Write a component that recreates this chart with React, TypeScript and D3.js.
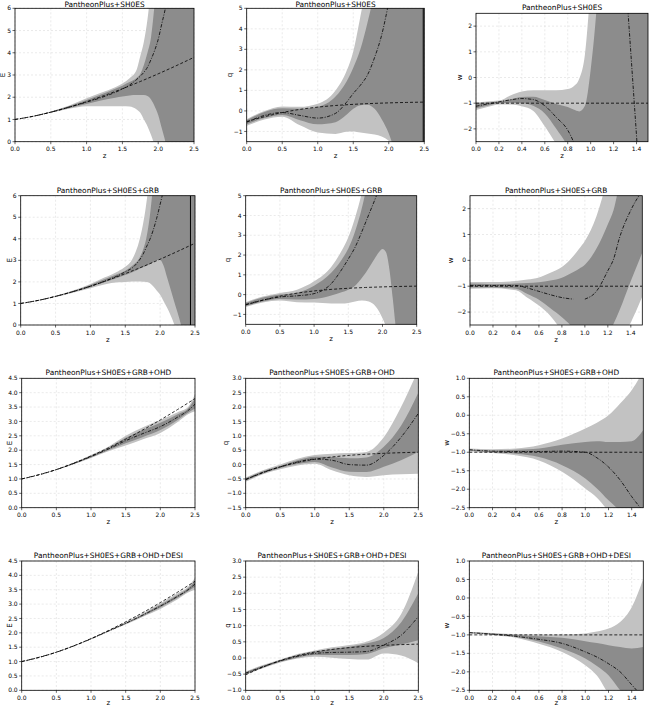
import React from 'react';
import * as d3 from 'd3';

// ---------- reference (LCDM) curves ----------
const lcdmZ = [0, 0.25, 0.5, 0.75, 1, 1.25, 1.5, 1.75, 2, 2.25, 2.5];
const lcdmE = [1, 1.142, 1.327, 1.548, 1.8, 2.08, 2.383, 2.708, 3.053, 3.416, 3.795];
const lcdmQ = [-0.52, -0.282, -0.08, 0.074, 0.185, 0.264, 0.32, 0.361, 0.391, 0.413, 0.429];
const lcdmWZ = [0, 1.5];
const lcdmW = [-1, -1];

// ---------- tick values ----------
const ticksZ25 = [0, 0.5, 1, 1.5, 2, 2.5];
const ticksZ15 = [0, 0.2, 0.4, 0.6, 0.8, 1, 1.2, 1.4];
const ticksE6 = [0, 1, 2, 3, 4, 5, 6];
const ticksQ5 = [-1, 0, 1, 2, 3, 4, 5];
const ticksW25 = [-2, -1, 0, 1, 2];
const ticksE45 = [0, 0.5, 1, 1.5, 2, 2.5, 3, 3.5, 4, 4.5];
const ticksQ3 = [-1.5, -1, -0.5, 0, 0.5, 1, 1.5, 2, 2.5, 3];
const ticksW1 = [-2.5, -2, -1.5, -1, -0.5, 0, 0.5, 1];
const ticksQ3b = [-1, -0.5, 0, 0.5, 1, 1.5, 2, 2.5, 3];

// ---------- Panel 1: E, PantheonPlus+SH0ES ----------
const p1Z = [0, 0.25, 0.5, 0.75, 1.0, 1.2, 1.4, 1.5, 1.6, 1.7, 1.75, 1.8, 1.85, 1.9, 1.95, 2.0, 2.05, 2.1, 2.2, 2.5];
const p1Hi2 = [1.0, 1.16, 1.36, 1.62, 1.95, 2.2, 2.45, 2.62, 2.85, 3.25, 3.85, 4.5, 5.5, 7, 9, 12, 15, 18, 20, 25];
const p1Hi1 = [1.0, 1.15, 1.345, 1.59, 1.88, 2.12, 2.38, 2.52, 2.68, 2.88, 3.05, 3.45, 4.0, 4.7, 6.2, 8, 11, 14, 18, 25];
const p1Mean = [1.0, 1.14, 1.327, 1.55, 1.78, 1.98, 2.22, 2.37, 2.55, 2.8, 2.95, 3.12, 3.35, 3.7, 4.1, 4.6, 5.3, 6.0, 8, 14];
const p1Lo1 = [1.0, 1.135, 1.31, 1.51, 1.7, 1.85, 1.98, 2.03, 2.08, 2.1, 2.1, 2.1, 2.05, 1.9, 1.6, 1.2, 0.6, 0.0, -1.5, -5];
const p1Lo2 = [1.0, 1.13, 1.3, 1.48, 1.6, 1.6, 1.6, 1.6, 1.58, 1.45, 1.3, 1.0, 0.7, 0.3, -0.2, -1, -2, -3, -4, -5];

// ---------- Panel 2: q, PantheonPlus+SH0ES ----------
const p2Z = [0, 0.25, 0.5, 0.75, 1.0, 1.25, 1.4, 1.5, 1.6, 1.7, 1.8, 1.9, 2.0, 2.05, 2.1, 2.2, 2.5];
const p2Hi2 = [-0.4, 0.0, 0.22, 0.2, 0.35, 1.0, 1.9, 2.9, 4.6, 6.5, 9, 12, 15, 16, 17, 20, 25];
const p2Hi1 = [-0.45, -0.05, 0.13, 0.1, 0.2, 0.7, 1.4, 2.1, 3.0, 4.3, 5.8, 7.5, 10, 12, 14, 18, 25];
const p2Mean = [-0.55, -0.22, -0.08, -0.22, -0.35, -0.12, 0.4, 0.85, 1.25, 1.75, 2.6, 3.7, 5.3, 6.2, 7.5, 10, 20];
const p2Lo1 = [-0.65, -0.35, -0.2, -0.45, -0.65, -0.55, -0.2, 0.1, 0.28, 0.3, 0.1, -0.4, -1.1, -1.6, -2.2, -3, -6];
const p2Lo2 = [-0.72, -0.42, -0.28, -0.7, -1.05, -1.12, -1.02, -1.0, -1.05, -1.1, -1.15, -1.25, -1.45, -1.6, -2.0, -3, -8];

// ---------- Panel 3: w, PantheonPlus+SH0ES ----------
const p3Z = [0, 0.1, 0.2, 0.3, 0.4, 0.5, 0.6, 0.7, 0.8, 0.85, 0.9, 0.95, 1.0, 1.05, 1.1, 1.5];
const p3Hi2 = [-0.97, -0.93, -0.9, -0.7, -0.55, -0.5, -0.5, -0.5, -0.45, -0.35, -0.05, 0.9, 3.5, 6, 8, 12];
const p3Hi1 = [-1.0, -0.97, -0.93, -0.85, -0.76, -0.75, -0.88, -1.03, -1.15, -1.25, -1.32, -1.1, 0.3, 2.6, 6, 12];
const p3Mean = [-1.12, -1.03, -0.95, -0.87, -0.82, -0.86, -1.1, -1.55, -2.05, -2.5, -3.1, NaN, NaN, NaN, NaN, NaN];
const p3Lo1 = [-1.2, -1.1, -1.0, -0.98, -1.0, -1.1, -1.4, -2.0, -2.7, -3.2, -4, -5, -6, -7, -8, -12];
const p3Lo2 = [-1.27, -1.15, -1.05, -1.05, -1.12, -1.3, -1.9, -2.6, -3.3, -4, -5, -6, -7, -8, -9, -12];
const p3MeanBZ = [1.325, 1.405];
const p3MeanB = [2.6, -2.6];

// ---------- Panel 4: E, PantheonPlus+SH0ES+GRB ----------
const p4Z = [0, 0.25, 0.5, 0.75, 1.0, 1.2, 1.4, 1.5, 1.6, 1.7, 1.75, 1.8, 1.85, 1.9, 1.95, 2.0, 2.05, 2.1, 2.2, 2.3, 2.4, 2.5];
const p4Hi2 = [1.0, 1.155, 1.35, 1.6, 1.9, 2.2, 2.5, 2.7, 3.05, 3.9, 4.6, 5.6, 7, 9, 11, 13, 15, 17, 20, 22, 24, 25];
const p4Hi1 = [1.0, 1.15, 1.34, 1.58, 1.86, 2.12, 2.38, 2.52, 2.75, 3.1, 3.45, 4.0, 5.0, 6.5, 8, 10, 12, 14, 17, 20, 22, 25];
const p4Mean = [1.0, 1.14, 1.33, 1.55, 1.8, 2.03, 2.3, 2.47, 2.65, 3.0, 3.25, 3.6, 3.95, 4.4, 4.95, 5.6, 6.3, 7.2, 9, 12, 15, 20];
const p4Lo1 = [1.0, 1.135, 1.32, 1.53, 1.75, 1.98, 2.2, 2.32, 2.45, 2.6, 2.68, 2.74, 2.82, 2.9, 3.0, 3.02, 2.75, 2.2, 1.1, 0.0, -1.5, -3];
const p4Lo2 = [1.0, 1.13, 1.3, 1.5, 1.7, 1.88, 1.98, 2.0, 2.02, 2.02, 2.01, 2.0, 1.95, 1.8, 1.6, 1.4, 1.1, 0.8, 0.05, -1, -2, -3];

// ---------- Panel 5: q, PantheonPlus+SH0ES+GRB ----------
const p5Z = [0, 0.25, 0.5, 0.75, 1.0, 1.25, 1.4, 1.5, 1.6, 1.7, 1.8, 1.9, 1.95, 2.0, 2.05, 2.1, 2.15, 2.2, 2.3, 2.5];
const p5Hi2 = [-0.38, -0.1, 0.08, 0.25, 0.67, 1.4, 2.2, 2.9, 3.9, 5.2, 7, 9, 10, 11, 12, 13, 14, 15, 17, 20];
const p5Hi1 = [-0.42, -0.15, 0.0, 0.1, 0.45, 1.1, 1.75, 2.33, 3.2, 4.4, 6, 8, 9, 10, 11, 12, 13, 14, 16, 20];
const p5Mean = [-0.5, -0.28, -0.12, -0.06, 0.05, 0.55, 1.25, 1.8, 2.4, 3.2, 4.05, 4.9, 5.35, 5.8, 6.3, 7, 7.5, 8, 9, 12];
const p5Lo1 = [-0.58, -0.35, -0.22, -0.25, -0.22, -0.05, 0.12, 0.25, 0.45, 0.85, 1.35, 1.9, 2.15, 2.3, 2.15, 1.3, -0.2, -1.8, -3, -5];
const p5Lo2 = [-0.62, -0.4, -0.3, -0.38, -0.4, -0.45, -0.45, -0.42, -0.35, -0.3, -0.35, -0.6, -0.85, -1.2, -1.6, -2, -2.5, -3, -4, -6];

// ---------- Panel 6: w, PantheonPlus+SH0ES+GRB ----------
const p6Z = [0, 0.2, 0.4, 0.5, 0.6, 0.7, 0.8, 0.9, 0.95, 1.0, 1.1, 1.2, 1.25, 1.3, 1.4, 1.5];
const p6Hi2 = [-0.84, -0.84, -0.8, -0.74, -0.66, -0.48, -0.26, 0.17, 0.45, 0.75, 1.7, 3.2, 4, 5, 6, 7];
const p6Hi1 = [-0.9, -0.92, -0.9, -0.88, -0.85, -0.78, -0.67, -0.45, -0.32, -0.17, 0.45, 1.4, 1.95, 2.9, 4, 5];
const p6Mean = [-0.97, -0.97, -0.97, -1.07, -1.2, -1.33, -1.44, -1.5, NaN, -1.5, -1.2, -0.4, 0.05, 0.85, 1.94, 2.7];
const p6Lo1 = [-1.05, -1.05, -1.1, -1.3, -1.52, -1.85, -2.2, -2.65, -3, -3.3, -3.4, -2.9, -2.45, -1.95, -0.8, 0.3];
const p6Lo2 = [-1.1, -1.08, -1.16, -1.45, -1.75, -2.15, -2.75, -3.5, -4, -4.3, -4.5, -4, -3.6, -3.2, -2.4, -1.4];

// ---------- Panel 7: E, +OHD ----------
const p7Z = [0, 0.5, 1.0, 1.25, 1.5, 1.75, 2.0, 2.25, 2.4, 2.5];
const p7Hi2 = [1.0, 1.335, 1.83, 2.12, 2.5, 2.8, 3.05, 3.32, 3.5, 3.95];
const p7Hi1 = [1.0, 1.33, 1.81, 2.08, 2.43, 2.7, 2.95, 3.25, 3.45, 3.8];
const p7Mean = [1.0, 1.325, 1.78, 2.04, 2.33, 2.58, 2.82, 3.15, 3.38, 3.6];
const p7Lo1 = [1.0, 1.32, 1.75, 2.0, 2.24, 2.46, 2.7, 3.05, 3.3, 3.45];
const p7Lo2 = [1.0, 1.315, 1.73, 1.96, 2.16, 2.38, 2.6, 2.98, 3.25, 3.35];

// ---------- Panel 8: q, +OHD ----------
const p8Z = [0, 0.25, 0.5, 0.75, 1.0, 1.25, 1.5, 1.75, 2.0, 2.25, 2.5];
const p8Hi2 = [-0.45, -0.2, 0.0, 0.2, 0.33, 0.38, 0.4, 0.44, 0.95, 2.0, 3.3];
const p8Hi1 = [-0.48, -0.23, -0.05, 0.15, 0.27, 0.26, 0.22, 0.25, 0.62, 1.35, 2.5];
const p8Mean = [-0.52, -0.27, -0.08, 0.09, 0.19, 0.15, 0.0, -0.02, 0.32, 0.95, 1.78];
const p8Lo1 = [-0.56, -0.31, -0.12, 0.02, 0.09, -0.1, -0.25, -0.26, -0.08, 0.15, 0.44];
const p8Lo2 = [-0.6, -0.34, -0.16, -0.03, 0.03, -0.2, -0.37, -0.43, -0.37, -0.34, -0.32];

// ---------- Panel 9: w, +OHD ----------
const p9Z = [0, 0.2, 0.4, 0.6, 0.8, 1.0, 1.1, 1.2, 1.3, 1.4, 1.5];
const p9Hi2 = [-0.9, -0.92, -0.9, -0.81, -0.63, -0.36, -0.2, 0.0, 0.32, 0.68, 1.2];
const p9Hi1 = [-0.93, -0.95, -0.93, -0.9, -0.8, -0.72, -0.7, -0.72, -0.72, -0.7, -0.4];
const p9Mean = [-0.93, -0.97, -0.98, -0.98, -0.97, -1.0, -1.15, -1.4, -1.75, -2.2, -2.6];
const p9Lo1 = [-0.96, -1.0, -1.04, -1.13, -1.35, -1.71, -1.98, -2.3, -2.6, -3, -3.5];
const p9Lo2 = [-0.97, -1.02, -1.08, -1.22, -1.53, -1.98, -2.23, -2.6, -3, -3.5, -4];

// ---------- Panel 10: E, +DESI ----------
const p10Z = [0, 0.5, 1.0, 1.25, 1.5, 1.75, 2.0, 2.25, 2.4, 2.5];
const p10Hi2 = [1.0, 1.33, 1.8, 2.08, 2.37, 2.68, 3.03, 3.38, 3.6, 3.92];
const p10Hi1 = [1.0, 1.33, 1.8, 2.07, 2.35, 2.65, 2.98, 3.32, 3.55, 3.82];
const p10Mean = [1.0, 1.325, 1.79, 2.06, 2.33, 2.62, 2.93, 3.27, 3.5, 3.7];
const p10Lo1 = [1.0, 1.32, 1.785, 2.05, 2.31, 2.59, 2.88, 3.22, 3.45, 3.6];
const p10Lo2 = [1.0, 1.32, 1.78, 2.04, 2.29, 2.56, 2.83, 3.17, 3.4, 3.5];

// ---------- Panel 11: q, +DESI ----------
const p11Z = [0, 0.25, 0.5, 0.75, 1.0, 1.25, 1.5, 1.75, 2.0, 2.25, 2.5];
const p11Hi2 = [-0.42, -0.22, -0.05, 0.12, 0.23, 0.33, 0.4, 0.5, 0.78, 1.35, 2.67];
const p11Hi1 = [-0.44, -0.24, -0.07, 0.09, 0.2, 0.28, 0.35, 0.45, 0.62, 1.1, 2.0];
const p11Mean = [-0.47, -0.27, -0.09, 0.05, 0.14, 0.17, 0.18, 0.2, 0.4, 0.7, 1.28];
const p11Lo1 = [-0.5, -0.3, -0.12, 0.01, 0.09, 0.09, 0.09, 0.12, 0.3, 0.42, 0.55];
const p11Lo2 = [-0.52, -0.32, -0.14, -0.02, 0.04, 0.01, -0.03, -0.05, 0.14, 0.08, -0.16];

// ---------- Panel 12: w, +DESI ----------
const p12Z = [0, 0.2, 0.4, 0.6, 0.8, 1.0, 1.1, 1.2, 1.3, 1.4, 1.5];
const p12Hi2 = [-0.92, -0.95, -0.98, -0.99, -0.99, -0.96, -0.91, -0.83, -0.65, -0.25, 0.52];
const p12Hi1 = [-0.93, -0.96, -1.0, -1.04, -1.08, -1.17, -1.22, -1.28, -1.33, -1.37, -1.33];
const p12Mean = [-0.94, -0.98, -1.04, -1.12, -1.23, -1.46, -1.6, -1.78, -2.0, -2.35, -2.7];
const p12Lo1 = [-0.95, -0.99, -1.06, -1.18, -1.37, -1.64, -1.84, -2.09, -2.5, -2.9, -3.4];
const p12Lo2 = [-0.96, -1.0, -1.08, -1.24, -1.46, -1.82, -2.1, -2.6, -3, -3.5, -4];

const titles = [
  'PantheonPlus+SH0ES',
  'PantheonPlus+SH0ES+GRB',
  'PantheonPlus+SH0ES+GRB+OHD',
  'PantheonPlus+SH0ES+GRB+OHD+DESI',
];

type Cfg = {
  title: string; ylabel: string; xDomain: [number, number]; yDomain: [number, number];
  xTicks: number[]; yTicks: number[]; yFmt: string;
  z: number[]; hi2: number[]; hi1: number[]; mean: number[]; lo1: number[]; lo2: number[];
  refZ: number[]; ref: number[]; pole?: number; meanBZ?: number[]; meanB?: number[];
};

const panels: Cfg[] = [
  { title: titles[0], ylabel: 'E', xDomain: [0, 2.5], yDomain: [0, 6], xTicks: ticksZ25, yTicks: ticksE6, yFmt: 'd',
    z: p1Z, hi2: p1Hi2, hi1: p1Hi1, mean: p1Mean, lo1: p1Lo1, lo2: p1Lo2, refZ: lcdmZ, ref: lcdmE },
  { title: titles[0], ylabel: 'q', xDomain: [0, 2.5], yDomain: [-1.5, 5], xTicks: ticksZ25, yTicks: ticksQ5, yFmt: 'd',
    z: p2Z, hi2: p2Hi2, hi1: p2Hi1, mean: p2Mean, lo1: p2Lo1, lo2: p2Lo2, refZ: lcdmZ, ref: lcdmQ, pole: 2.485 },
  { title: titles[0], ylabel: 'w', xDomain: [0, 1.5], yDomain: [-2.5, 2.5], xTicks: ticksZ15, yTicks: ticksW25, yFmt: 'd',
    z: p3Z, hi2: p3Hi2, hi1: p3Hi1, mean: p3Mean, lo1: p3Lo1, lo2: p3Lo2, refZ: lcdmWZ, ref: lcdmW, meanBZ: p3MeanBZ, meanB: p3MeanB },
  { title: titles[1], ylabel: 'E', xDomain: [0, 2.5], yDomain: [0, 6], xTicks: ticksZ25, yTicks: ticksE6, yFmt: 'd',
    z: p4Z, hi2: p4Hi2, hi1: p4Hi1, mean: p4Mean, lo1: p4Lo1, lo2: p4Lo2, refZ: lcdmZ, ref: lcdmE, pole: 2.435 },
  { title: titles[1], ylabel: 'q', xDomain: [0, 2.5], yDomain: [-1.5, 5], xTicks: ticksZ25, yTicks: ticksQ5, yFmt: 'd',
    z: p5Z, hi2: p5Hi2, hi1: p5Hi1, mean: p5Mean, lo1: p5Lo1, lo2: p5Lo2, refZ: lcdmZ, ref: lcdmQ },
  { title: titles[1], ylabel: 'w', xDomain: [0, 1.5], yDomain: [-2.5, 2.5], xTicks: ticksZ15, yTicks: ticksW25, yFmt: 'd',
    z: p6Z, hi2: p6Hi2, hi1: p6Hi1, mean: p6Mean, lo1: p6Lo1, lo2: p6Lo2, refZ: lcdmWZ, ref: lcdmW },
  { title: titles[2], ylabel: 'E', xDomain: [0, 2.5], yDomain: [0, 4.5], xTicks: ticksZ25, yTicks: ticksE45, yFmt: '.1f',
    z: p7Z, hi2: p7Hi2, hi1: p7Hi1, mean: p7Mean, lo1: p7Lo1, lo2: p7Lo2, refZ: lcdmZ, ref: lcdmE },
  { title: titles[2], ylabel: 'q', xDomain: [0, 2.5], yDomain: [-1.5, 3], xTicks: ticksZ25, yTicks: ticksQ3, yFmt: '.1f',
    z: p8Z, hi2: p8Hi2, hi1: p8Hi1, mean: p8Mean, lo1: p8Lo1, lo2: p8Lo2, refZ: lcdmZ, ref: lcdmQ },
  { title: titles[2], ylabel: 'w', xDomain: [0, 1.5], yDomain: [-2.5, 1], xTicks: ticksZ15, yTicks: ticksW1, yFmt: '.1f',
    z: p9Z, hi2: p9Hi2, hi1: p9Hi1, mean: p9Mean, lo1: p9Lo1, lo2: p9Lo2, refZ: lcdmWZ, ref: lcdmW },
  { title: titles[3], ylabel: 'E', xDomain: [0, 2.5], yDomain: [0, 4.5], xTicks: ticksZ25, yTicks: ticksE45, yFmt: '.1f',
    z: p10Z, hi2: p10Hi2, hi1: p10Hi1, mean: p10Mean, lo1: p10Lo1, lo2: p10Lo2, refZ: lcdmZ, ref: lcdmE },
  { title: titles[3], ylabel: 'q', xDomain: [0, 2.5], yDomain: [-1, 3], xTicks: ticksZ25, yTicks: ticksQ3b, yFmt: '.1f',
    z: p11Z, hi2: p11Hi2, hi1: p11Hi1, mean: p11Mean, lo1: p11Lo1, lo2: p11Lo2, refZ: lcdmZ, ref: lcdmQ },
  { title: titles[3], ylabel: 'w', xDomain: [0, 1.5], yDomain: [-2.5, 1], xTicks: ticksZ15, yTicks: ticksW1, yFmt: '.1f',
    z: p12Z, hi2: p12Hi2, hi1: p12Hi1, mean: p12Mean, lo1: p12Lo1, lo2: p12Lo2, refZ: lcdmWZ, ref: lcdmW },
];

// plot-area boxes: [left, right, top, bottom, y-label offset, title gap, x-label gap]
const boxes: [number, number, number, number, number, number, number][] = [
  [15, 194, 8.3, 141.7, 12.3, 1.8, 16.5],
  [246.7, 424.3, 8.3, 141.7, 16.7, 1.8, 16.5],
  [476, 648, 13.3, 141.7, 16.7, 3, 16.5],
  [20.7, 195, 195.7, 325, 10.7, 3, 16.5],
  [245.7, 416.7, 195.7, 324.3, 18, 3, 16.5],
  [470, 642.3, 195.7, 325, 19, 3, 16.5],
  [21.7, 195, 378.3, 507.7, 11.7, 3, 16.5],
  [245.7, 418.3, 378.3, 507.7, 20, 3, 16.5],
  [469.3, 643.3, 378.3, 507.7, 23, 3, 16.5],
  [21.7, 195, 561, 690.3, 11.7, 3, 15],
  [245.7, 418.3, 561, 690.3, 18, 3, 15],
  [469.3, 643.3, 561, 690.3, 23, 3, 15],
];

const LIGHT = '#c2c2c2';
const DARK = '#8c8c8c';
const FONT = 'DejaVu Sans, sans-serif';

function Panel({ cfg, box, idx }: { cfg: Cfg; box: [number, number, number, number, number, number, number]; idx: number }) {
  const [l, r, t, b, yl, tg, xg] = box;
  const x = d3.scaleLinear().domain(cfg.xDomain).range([l, r]);
  const y = d3.scaleLinear().domain(cfg.yDomain).range([b, t]);
  const rows = cfg.z.map((z, i) => ({ z, hi2: cfg.hi2[i], hi1: cfg.hi1[i], mean: cfg.mean[i], lo1: cfg.lo1[i], lo2: cfg.lo2[i] }));
  type R = (typeof rows)[number];
  const area2 = d3.area<R>().x(d => x(d.z)).y0(d => y(d.lo2)).y1(d => y(d.hi2)).curve(d3.curveMonotoneX);
  const area1 = d3.area<R>().x(d => x(d.z)).y0(d => y(d.lo1)).y1(d => y(d.hi1)).curve(d3.curveMonotoneX);
  const meanLine = d3.line<R>().defined(d => !isNaN(d.mean)).x(d => x(d.z)).y(d => y(d.mean)).curve(d3.curveMonotoneX);
  const refRows = cfg.refZ.map((z, i) => ({ z, v: cfg.ref[i] }));
  const refLine = d3.line<{ z: number; v: number }>().x(d => x(d.z)).y(d => y(d.v)).curve(d3.curveMonotoneX);
  const fmtY = d3.format(cfg.yFmt);
  const fmtX = d3.format('.1f');
  const clipId = `clip${idx}`;
  let meanB: string | null = null;
  if (cfg.meanBZ && cfg.meanB) {
    const mb = cfg.meanBZ.map((z, i) => ({ z, v: cfg.meanB![i] }));
    meanB = d3.line<{ z: number; v: number }>().x(d => x(d.z)).y(d => y(d.v))(mb);
  }
  return (
    <g>
      <defs>
        <clipPath id={clipId}>
          <rect x={l} y={t} width={r - l} height={b - t} />
        </clipPath>
      </defs>
      <g stroke="#dcdcdc" strokeWidth={0.6} strokeDasharray="2,2">
        {cfg.xTicks.map(v => <line key={'gx' + v} x1={x(v)} x2={x(v)} y1={t} y2={b} />)}
        {cfg.yTicks.map(v => <line key={'gy' + v} x1={l} x2={r} y1={y(v)} y2={y(v)} />)}
      </g>
      <g clipPath={`url(#${clipId})`}>
        <path d={area2(rows) || ''} fill={LIGHT} />
        <path d={area1(rows) || ''} fill={DARK} />
        <path d={refLine(refRows) || ''} fill="none" stroke="#000" strokeWidth={0.8} strokeDasharray="3,2" />
        <path d={meanLine(rows) || ''} fill="none" stroke="#000" strokeWidth={0.8} strokeDasharray="3.5,1.5,1,1.5" />
        {meanB && <path d={meanB} fill="none" stroke="#000" strokeWidth={0.8} strokeDasharray="3.5,1.5,1,1.5" />}
        {cfg.pole !== undefined && <line x1={x(cfg.pole)} x2={x(cfg.pole)} y1={t} y2={b} stroke="#000" strokeWidth={1} />}
      </g>
      <rect x={l} y={t} width={r - l} height={b - t} fill="none" stroke="#000" strokeWidth={0.8} />
      <g stroke="#000" strokeWidth={0.6}>
        {cfg.xTicks.map(v => <line key={'tx' + v} x1={x(v)} x2={x(v)} y1={b} y2={b + 2.5} />)}
        {cfg.yTicks.map(v => <line key={'ty' + v} x1={l - 2.5} x2={l} y1={y(v)} y2={y(v)} />)}
      </g>
      <g fontFamily={FONT} fontSize={6}>
        {cfg.xTicks.map(v => <text key={'lx' + v} x={x(v)} y={b + 9.5} textAnchor="middle" fill="#000">{fmtX(v)}</text>)}
        {cfg.yTicks.map(v => <text key={'ly' + v} x={l - 4} y={y(v)} dy="0.35em" textAnchor="end" fill="#000">{fmtY(v)}</text>)}
      </g>
      <text x={(l + r) / 2} y={t - tg} textAnchor="middle" fontFamily={FONT} fontSize={7.4} fill="#000">{cfg.title}</text>
      <text x={(l + r) / 2} y={b + xg} textAnchor="middle" fontFamily={FONT} fontSize={7} fill="#000">z</text>
      <text transform={`translate(${l - yl},${(t + b) / 2}) rotate(-90)`} dy="0.35em" textAnchor="middle" fontFamily={FONT} fontSize={7} fill="#000">{cfg.ylabel}</text>
    </g>
  );
}

export default function App() {
  return (
    <svg width={650} height={707} style={{ position: 'absolute', left: 0, top: 0, background: '#fff' }}>
      <rect x={0} y={0} width={650} height={707} fill="#fff" />
      {panels.map((cfg, i) => <Panel key={i} cfg={cfg} box={boxes[i]} idx={i} />)}
    </svg>
  );
}
